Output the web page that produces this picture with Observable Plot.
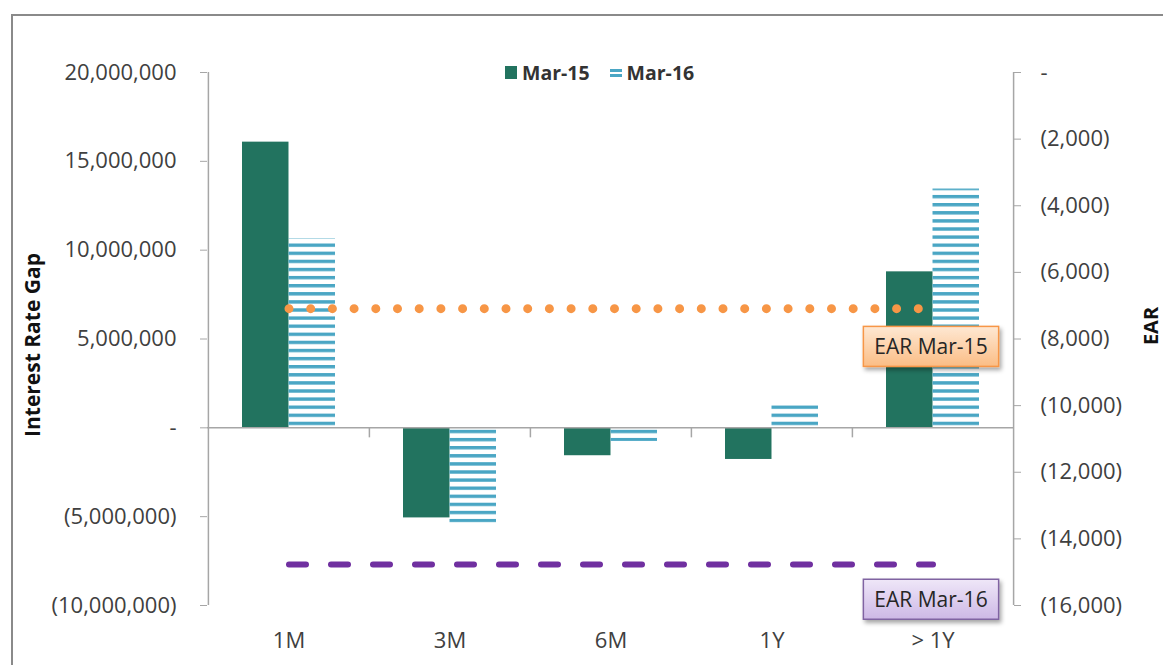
<!DOCTYPE html>
<html>
<head>
<meta charset="utf-8">
<script src="https://cdn.jsdelivr.net/npm/d3@7"></script>
<script src="https://cdn.jsdelivr.net/npm/@observablehq/plot@0.6"></script>
<style>
  html, body { margin: 0; padding: 0; background: #fff; overflow: hidden; }
  #wrap { position: relative; width: 1163px; height: 665px; font-family: "Open Sans", sans-serif; }
  #frame { position: absolute; left: 11px; top: 14px; width: 1300px; height: 800px; border: 2px solid #8a8a8a; pointer-events: none; }
  #legend { position: absolute; left: 505px; top: 58px; height: 28px; display: flex; align-items: center; font-weight: bold; font-size: 19.5px; color: #333; }
  #legend .sw { display: inline-block; width: 12px; height: 13px; margin-right: 5px; }
  #legend .item { display: flex; align-items: center; margin-right: 20px; }
  .ytitle { position: absolute; transform: translate(-50%, -50%) rotate(-90deg); white-space: nowrap; font-weight: bold; color: #111; }
</style>
</head>
<body>
<div id="wrap">
  <div id="chart"></div>
  <div id="legend"></div>
  <div class="ytitle" id="ytl" style="left:32px; top:345px; font-size:21px;">Interest Rate Gap</div>
  <div class="ytitle" id="ytr" style="left:1150px; top:326px; font-size:20px;">EAR</div>
  <div id="frame"></div>
</div>
<script>
// ---- data ----
const categories = ["1M", "3M", "6M", "1Y", "> 1Y"];
const seriesNames = ["Mar-15", "Mar-16"];
const mar15 = [16.08e6, -5.07e6, -1.57e6, -1.78e6, 8.78e6];
const mar16 = [10.63e6, -5.35e6, -0.77e6, 1.25e6, 13.44e6];
const leftTicks = [-10e6, -5e6, 0, 5e6, 10e6, 15e6, 20e6];
const rightTicks = [0, -2000, -4000, -6000, -8000, -10000, -12000, -14000, -16000];
const earMar15 = -7090;
const earMar16 = -14770;
const earLabels = ["EAR Mar-15", "EAR Mar-16"];

// ---- layout / style ----
const W = 1163, H = 665;
const mL = 207, mR = 150, mT = 72, mB = 60;
const teal = "#22735f";
const blue = "#4aa6c4";
const orange = "#f79646";
const purple = "#7030a0";
const axisGray = "#a6a6a6";
const padInner = 0.423;
const step = (W - mL - mR) / categories.length;
const bandwidth = step * (1 - padInner);
const half = bandwidth / 2;
const leftDomain = [-10e6, 20e6];
const rightDomain = [-16000, 0];
// map right-axis (EAR) values onto the left scale
const toLeft = v => leftDomain[0] + (v - rightDomain[0]) * (leftDomain[1] - leftDomain[0]) / (rightDomain[1] - rightDomain[0]);
const fromLeft = y => rightDomain[0] + (y - leftDomain[0]) * (rightDomain[1] - rightDomain[0]) / (leftDomain[1] - leftDomain[0]);
const pxToUnits = (leftDomain[1] - leftDomain[0]) / (H - mT - mB);

const fmt = d3.format(",");
const acct = v => { const r = Math.round(v); return r === 0 ? "-" : r < 0 ? `(${fmt(-r)})` : fmt(r); };

const rows = categories.flatMap((c, i) => [
  {cat: c, series: seriesNames[0], v: mar15[i]},
  {cat: c, series: seriesNames[1], v: mar16[i]}
]);
const earRows = [
  {v: earMar15, label: earLabels[0]},
  {v: earMar16, label: earLabels[1]}
];

const chart = Plot.plot({
  width: W, height: H,
  marginLeft: mL, marginRight: mR, marginTop: mT, marginBottom: mB,
  style: {fontFamily: "Open Sans, sans-serif", fontSize: "22px", color: "#404040", background: "transparent", overflow: "visible"},
  x: {domain: categories, paddingInner: padInner, paddingOuter: padInner / 2, axis: null},
  y: {domain: leftDomain, axis: null},
  marks: [
    Plot.barY(rows.filter(d => d.series === seriesNames[0]), {x: "cat", y: "v", fill: teal, insetRight: half}),
    Plot.barY(rows.filter(d => d.series === seriesNames[1]), {x: "cat", y: "v", fill: "url(#stripes)", insetLeft: half}),
    Plot.ruleY([0], {stroke: axisGray, strokeWidth: 1.5}),
    Plot.ruleX(categories.slice(1), {x: d => d, y1: 0, y2: -10 * pxToUnits, dx: -step / 2, stroke: axisGray, strokeWidth: 1.5}),
    Plot.ruleX([categories[0]], {x: d => d, y1: leftDomain[0], y2: leftDomain[1], dx: -step / 2, stroke: axisGray, strokeWidth: 1.5}),
    Plot.ruleX([categories[categories.length - 1]], {x: d => d, y1: leftDomain[0], y2: leftDomain[1], dx: step / 2, stroke: axisGray, strokeWidth: 1.5}),
    Plot.axisY({anchor: "left", ticks: leftTicks, tickFormat: acct, tickSize: 7, tickPadding: 24, label: null, stroke: axisGray, fill: "#404040"}),
    Plot.axisY({anchor: "right", ticks: rightTicks.map(toLeft), tickFormat: d => acct(fromLeft(d)), tickSize: 7, tickPadding: 20, label: null, stroke: axisGray, fill: "#404040"}),
    Plot.axisX({anchor: "bottom", tickSize: 0, tickPadding: 27, label: null, fill: "#404040"}),
    Plot.lineY(categories, {x: d => d, y: () => toLeft(earMar15), stroke: orange, strokeWidth: 9, strokeLinecap: "round", strokeDasharray: "0 21.7"}),
    Plot.lineY(categories, {x: d => d, y: () => toLeft(earMar16), stroke: purple, strokeWidth: 6, strokeLinecap: "round", strokeDasharray: "17 25"}),
    Plot.text(earRows.slice(0, 1), {x: () => categories[categories.length - 1], y: d => toLeft(d.v), text: "label", dy: 39, dx: -2, fontSize: 21, fill: "#262626"}),
    Plot.text(earRows.slice(1, 2), {x: () => categories[categories.length - 1], y: d => toLeft(d.v), text: "label", dy: 36, dx: -2, fontSize: 21, fill: "#262626"})
  ]
});
document.getElementById("chart").appendChild(chart);

// defs: stripe pattern, gradients, shadow
const ns = "http://www.w3.org/2000/svg";
const defs = document.createElementNS(ns, "defs");
defs.innerHTML = `
  <pattern id="stripes" patternUnits="userSpaceOnUse" width="8" height="8.1" y="0.5">
    <rect x="0" y="0" width="8" height="3.4" fill="${blue}"></rect>
  </pattern>
  <linearGradient id="gOrange" x1="0" y1="0" x2="0" y2="1">
    <stop offset="0" stop-color="#fee8d3"/><stop offset="1" stop-color="#fbbd85"/>
  </linearGradient>
  <linearGradient id="gPurple" x1="0" y1="0" x2="0" y2="1">
    <stop offset="0" stop-color="#efe7f8"/><stop offset="1" stop-color="#cdb8e6"/>
  </linearGradient>
  <filter id="shadow" x="-20%" y="-30%" width="150%" height="170%">
    <feDropShadow dx="2" dy="3" stdDeviation="2" flood-color="#000" flood-opacity="0.35"/>
  </filter>`;
chart.insertBefore(defs, chart.firstChild);

// label boxes behind EAR labels
const boxStyles = {
  [earLabels[0]]: {fill: "url(#gOrange)", stroke: orange},
  [earLabels[1]]: {fill: "url(#gPurple)", stroke: "#8064a2"}
};
chart.querySelectorAll("text").forEach(t => {
  const s = boxStyles[t.textContent];
  if (!s) return;
  const b = t.getBBox();
  const r = document.createElementNS(ns, "rect");
  const px = 11, py = 7;
  r.setAttribute("x", b.x - px);
  r.setAttribute("y", b.y - py + 1);
  r.setAttribute("width", b.width + 2 * px);
  r.setAttribute("height", b.height + 2 * py - 2);
  r.setAttribute("fill", s.fill);
  r.setAttribute("stroke", s.stroke);
  r.setAttribute("stroke-width", 1.5);
  r.setAttribute("filter", "url(#shadow)");
  const tr = t.getAttribute("transform");
  if (tr) r.setAttribute("transform", tr);
  t.parentNode.insertBefore(r, t);
});

// legend
const legend = document.getElementById("legend");
legend.innerHTML = `
  <span class="item"><span class="sw" style="background:${teal}"></span>${seriesNames[0]}</span>
  <span class="item"><span class="sw" style="background:linear-gradient(to bottom, transparent 0 3px, ${blue} 3px 6px, transparent 6px 8px, ${blue} 8px 11px, transparent 11px)"></span>${seriesNames[1]}</span>`;
</script>
</body>
</html>
